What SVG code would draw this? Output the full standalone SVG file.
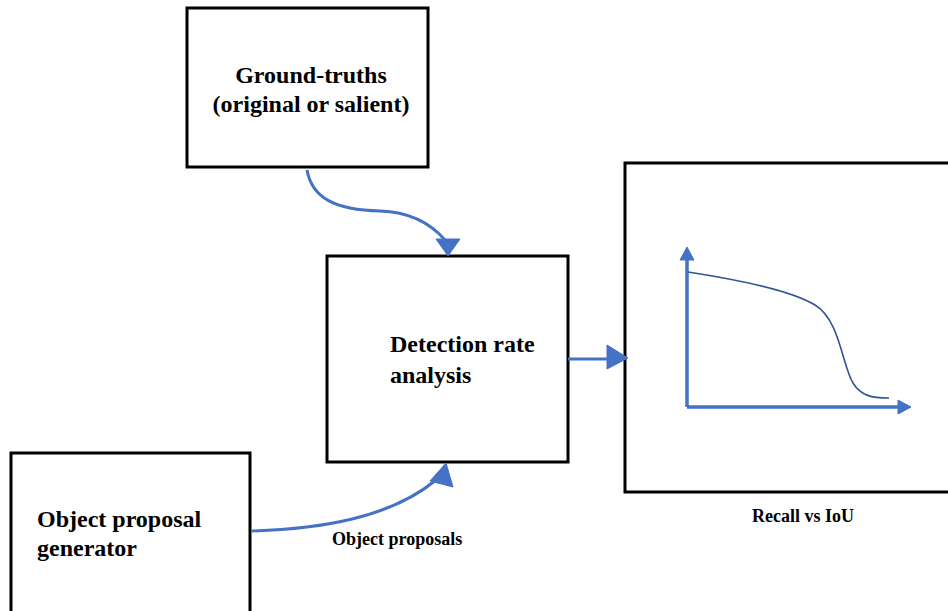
<svg xmlns="http://www.w3.org/2000/svg" width="948" height="611" viewBox="0 0 948 611">
  <style>
    .box { fill: #ffffff; stroke: #000000; stroke-width: 3; }
    .lbl { font-family: "Liberation Serif", "Times New Roman", serif; font-weight: bold; fill: #000000; }
    .big { font-size: 24px; }
    .small { font-size: 18px; }
    .conn { fill: none; stroke: #4472C4; stroke-width: 3; }
    .head { fill: #4472C4; stroke: #4472C4; stroke-width: 1; stroke-linejoin: round; }
    .axis { fill: none; stroke: #4472C4; stroke-width: 3.5; }
    .curve { fill: none; stroke: #2F5597; stroke-width: 1.6; }
  </style>
  <rect width="948" height="611" fill="#ffffff"/>

  <g id="ground-truths">
    <rect class="box" x="187" y="8" width="241" height="159"/>
    <text class="lbl big" x="311" y="83" text-anchor="middle">Ground-truths</text>
    <text class="lbl big" x="311" y="112" text-anchor="middle">(original or salient)</text>
  </g>

  <g id="detection-rate-analysis">
    <rect class="box" x="327" y="256" width="241" height="206"/>
    <text class="lbl big" x="390" y="352">Detection rate</text>
    <text class="lbl big" x="390" y="383">analysis</text>
  </g>

  <g id="object-proposal-generator">
    <rect class="box" x="11" y="453" width="239" height="170"/>
    <text class="lbl big" x="37" y="527">Object proposal</text>
    <text class="lbl big" x="37" y="556">generator</text>
  </g>

  <g id="recall-vs-iou">
    <rect class="box" x="625" y="163" width="340" height="329"/>
    <!-- axes -->
    <path class="axis" d="M687,407 V258 M687,407 H899"/>
    <polygon class="head" points="680,260 694,260 687,247"/>
    <polygon class="head" points="898,400 898,414 911,407"/>
    <!-- recall curve -->
    <path class="curve" d="M688,272 C740,280 790,290 815,305 C840,320 842,365 853,383 C861,396 872,398 889,398"/>
    <text class="lbl small" x="752" y="522">Recall vs IoU</text>
  </g>

  <g id="connectors">
    <path class="conn" d="M307,170 C312,198 335,210 380,211 C412,212 432,225 445,240"/>
    <polygon class="head" points="436,239 460,239 448,256"/>

    <path class="conn" d="M251,531 C320,529 390,518 436,480"/>
    <polygon class="head" points="430,481 453,487 446,463"/>
    <text class="lbl small" x="332" y="545">Object proposals</text>

    <path class="conn" d="M568,359 H609"/>
    <polygon class="head" points="607,345 628,358 607,369"/>
  </g>
</svg>
